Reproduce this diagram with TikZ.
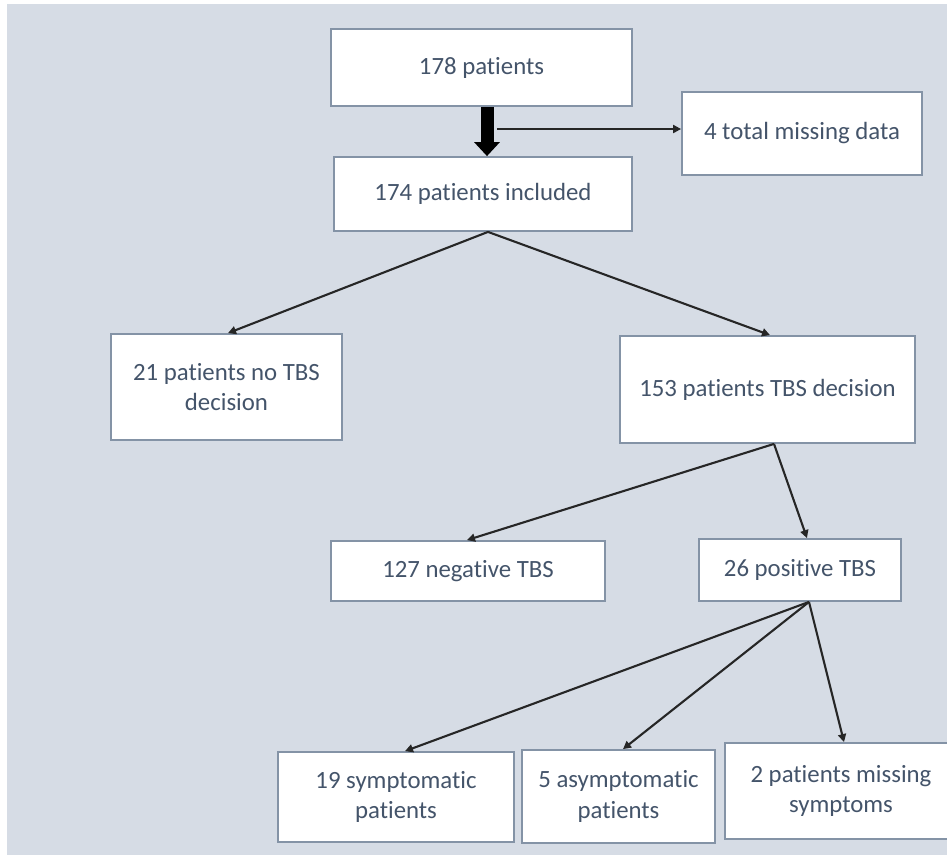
\documentclass[tikz,border=0pt]{standalone}
\usepackage{fontspec}
\setmainfont{Carlito}[Ligatures={NoCommon}]
\usetikzlibrary{arrows.meta}
\definecolor{bgc}{HTML}{D6DCE5}
\definecolor{txtc}{HTML}{44546A}
\definecolor{brdc}{HTML}{8493A6}
\definecolor{arrc}{HTML}{262626}
\tikzset{
  box/.style={draw=brdc, line width=1.8pt, fill=white, inner sep=0pt, align=center,
    text=txtc, font=\fontsize{24.8}{30.3}\selectfont},
  conn/.style={draw=arrc, line width=2.1pt, -{Triangle[length=8pt,width=8pt]}},
  thick arrow/.style={draw=black, line width=13pt, -{Triangle[length=14pt,width=25pt]}}
}
\begin{document}
\begin{tikzpicture}[x=1pt,y=-1pt]
\useasboundingbox (0,0) rectangle (947,855);
\fill[white] (0,0) rectangle (947,855);
\fill[bgc] (7,4) rectangle (947,855);

\node[box, minimum width=301pt, minimum height=77pt] (p178) at (481.5,67.5) {178 patients};
\node[box, minimum width=240pt, minimum height=83pt] (miss) at (802,133.5) {4 total missing data};
\node[box, minimum width=298pt, minimum height=74pt] (p174) at (483,194) {174 patients included};
\node[box, minimum width=231pt, minimum height=106pt] (no21) at (226.5,387) {21 patients no TBS\\decision};
\node[box, minimum width=295pt, minimum height=107pt] (tbs153) at (767.5,389.5) {153 patients TBS decision};
\node[box, minimum width=274pt, minimum height=60pt] (neg127) at (468,571) {127 negative TBS};
\node[box, minimum width=202pt, minimum height=62pt] (pos26) at (800,570) {26 positive TBS};
\node[box, minimum width=236pt, minimum height=90pt] (sym19) at (396,797) {19 symptomatic\\patients};
\node[box, minimum width=193pt, minimum height=93pt] (asym5) at (618.5,796.5) {5 asymptomatic\\patients};
\node[box, minimum width=232pt, minimum height=96pt] (miss2) at (841,791) {2 patients missing\\symptoms};

\coordinate (jt) at (497,129);

\draw[thick arrow] ([xshift=5.5pt]p178.south) -- ([xshift=4pt]p174.north);
\draw[conn] (jt) -- ([yshift=4.5pt]miss.west);

\draw[conn] ([xshift=5pt]p174.south) -- ([xshift=1.5pt]no21.north);
\draw[conn] ([xshift=5pt]p174.south) -- ([xshift=2.5pt]tbs153.north);

\draw[conn] ([xshift=6.5pt]tbs153.south) -- ([xshift=-1pt]neg127.north);
\draw[conn] ([xshift=6.5pt]tbs153.south) -- ([xshift=7pt]pos26.north);

\draw[conn] ([xshift=9pt]pos26.south) -- ([xshift=9pt]sym19.north);
\draw[conn] ([xshift=9pt]pos26.south) -- ([xshift=4.5pt]asym5.north);
\draw[conn] ([xshift=9pt]pos26.south) -- ([xshift=3pt]miss2.north);
\end{tikzpicture}
\end{document}
